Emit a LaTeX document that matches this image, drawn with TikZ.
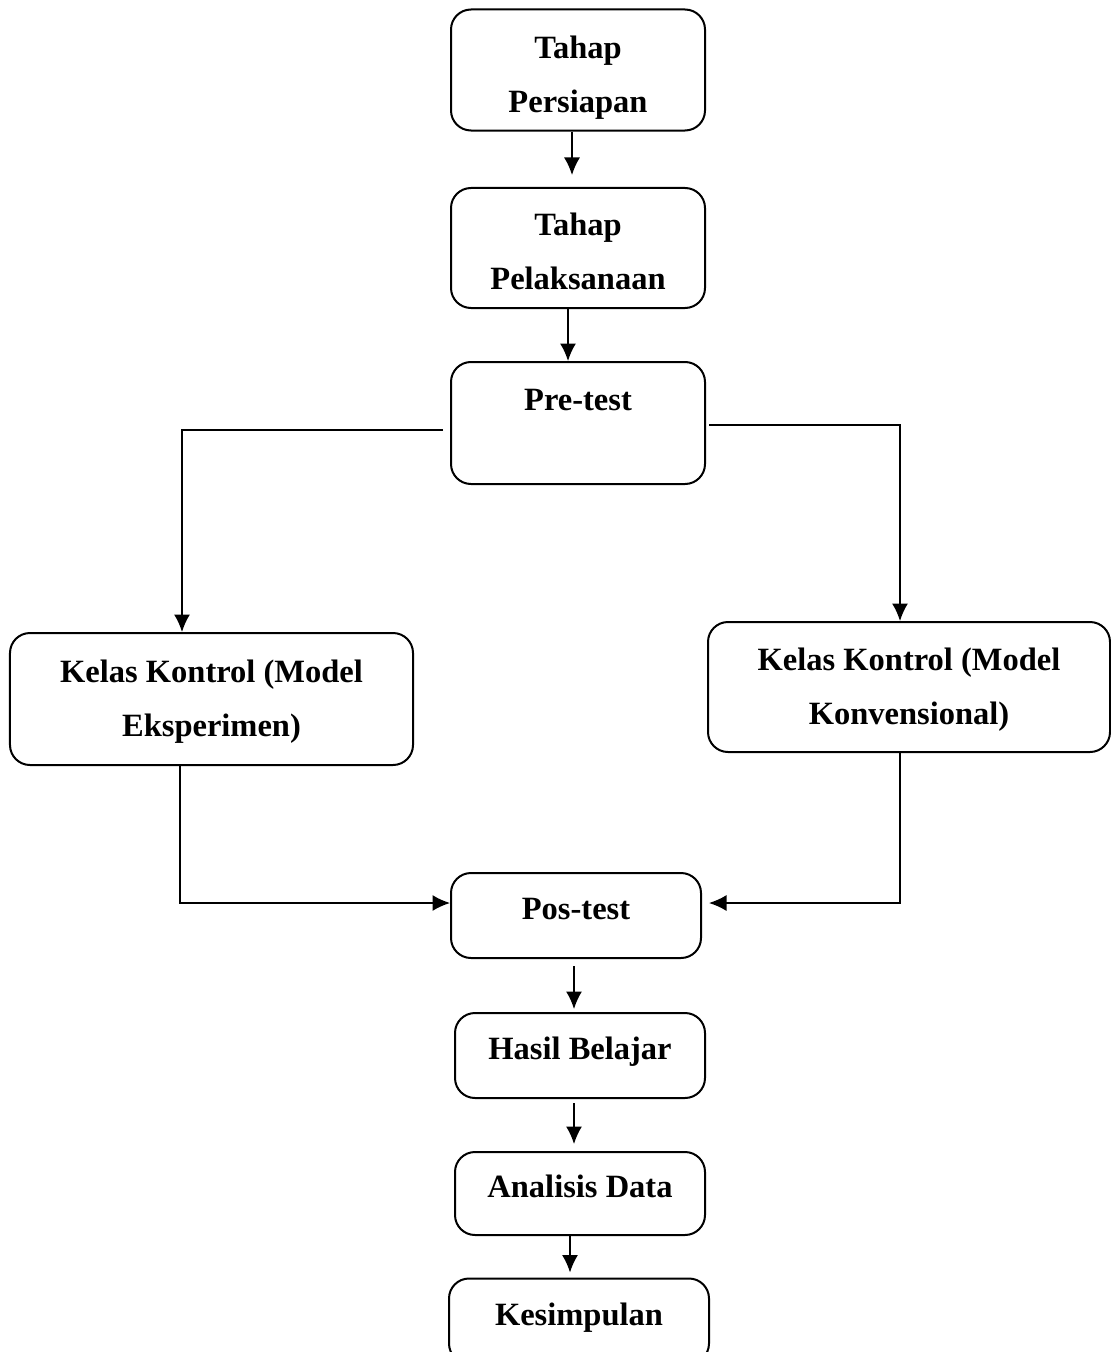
\documentclass[tikz,border=0pt]{standalone}
\usepackage{fontspec}
\setmainfont{Liberation Serif}
\usetikzlibrary{arrows.meta}

\begin{document}
\begin{tikzpicture}[x=0.4pt, y=-0.4pt, >={Latex[length=7pt,width=6.4pt]}]
    \tikzstyle{tahap}=[draw, rectangle, rounded corners=8pt, line width=0.8pt, align=center,
                       font=\fontsize{13pt}{21.6pt}\selectfont\bfseries]
    \tikzstyle{satu}=[text height=9pt, text depth=5.6pt]
    \tikzstyle{alur}=[line width=0.6pt]
  \useasboundingbox (0,0) rectangle (1111,1352);
  \clip (0,0) rectangle (1111,1352);

  \node (persiapan) at (578,70) [tahap, minimum width=101.6pt, minimum height=48.4pt] {\rule{0pt}{14.8pt}Tahap\\Persiapan};
  \node (pelaksanaan) at (578,248) [tahap, minimum width=101.6pt, minimum height=48pt] {\rule{0pt}{12pt}Tahap\\Pelaksanaan};
  \node (pretest) at (578,423) [tahap, text height=9.2pt, text depth=19.6pt, minimum width=101.6pt, minimum height=48.8pt] {Pre-test};
  \node (eksperimen) at (211.5,699) [tahap, minimum width=161.2pt, minimum height=52.8pt] {\rule{0pt}{10.8pt}Kelas Kontrol (Model\\Eksperimen)};
  \node (konvensional) at (909,687) [tahap, minimum width=160.8pt, minimum height=52pt] {\rule{0pt}{10.8pt}Kelas Kontrol (Model\\Konvensional)};
  \node (postest) at (576,915.5) [tahap, satu, minimum width=100pt, minimum height=34pt] {Pos-test};
  \node (hasil) at (580,1055.5) [tahap, satu, minimum width=100pt, minimum height=34pt] {Hasil Belajar};
  \node (analisis) at (580,1193.5) [tahap, satu, minimum width=100pt, minimum height=33.2pt] {Analisis Data};
  \node (kesimpulan) at (579,1321) [tahap, satu, minimum width=104pt, minimum height=34pt] {Kesimpulan};

  % titik belok
  \coordinate (kiri) at (182,430);
  \coordinate (kanan) at (900,425);
  \coordinate (kiribawah) at (180,903);
  \coordinate (kananbawah) at (900,903);

  \draw[alur,->,shorten >=4.8pt] (persiapan.south -| 572,0) -- (pelaksanaan.north -| 572,0);
  \draw[alur,->] (pelaksanaan.south -| 568,0) -- (pretest.north -| 568,0);

  \draw[alur,->,shorten <=2.8pt] (pretest.west |- kiri) -- (kiri) -- (kiri |- eksperimen.north);
  \draw[alur,->,shorten <=1.2pt] (pretest.east |- kanan) -- (kanan) -- (kanan |- konvensional.north);

  \draw[alur,->] (kiribawah |- eksperimen.south) -- (kiribawah) -- (kiribawah -| postest.west);
  \draw[alur,->,shorten >=2.8pt] (kananbawah |- konvensional.south) -- (kananbawah) -- (kananbawah -| postest.east);

  \draw[alur,->,shorten <=2.8pt,shorten >=1.2pt] (postest.south -| 574,0) -- (hasil.north -| 574,0);
  \draw[alur,->,shorten <=1.6pt,shorten >=2.8pt] (hasil.south -| 574,0) -- (analisis.north -| 574,0);
  \draw[alur,->,shorten >=2pt] (analisis.south -| 570,0) -- (kesimpulan.north -| 570,0);
\end{tikzpicture}
\end{document}
